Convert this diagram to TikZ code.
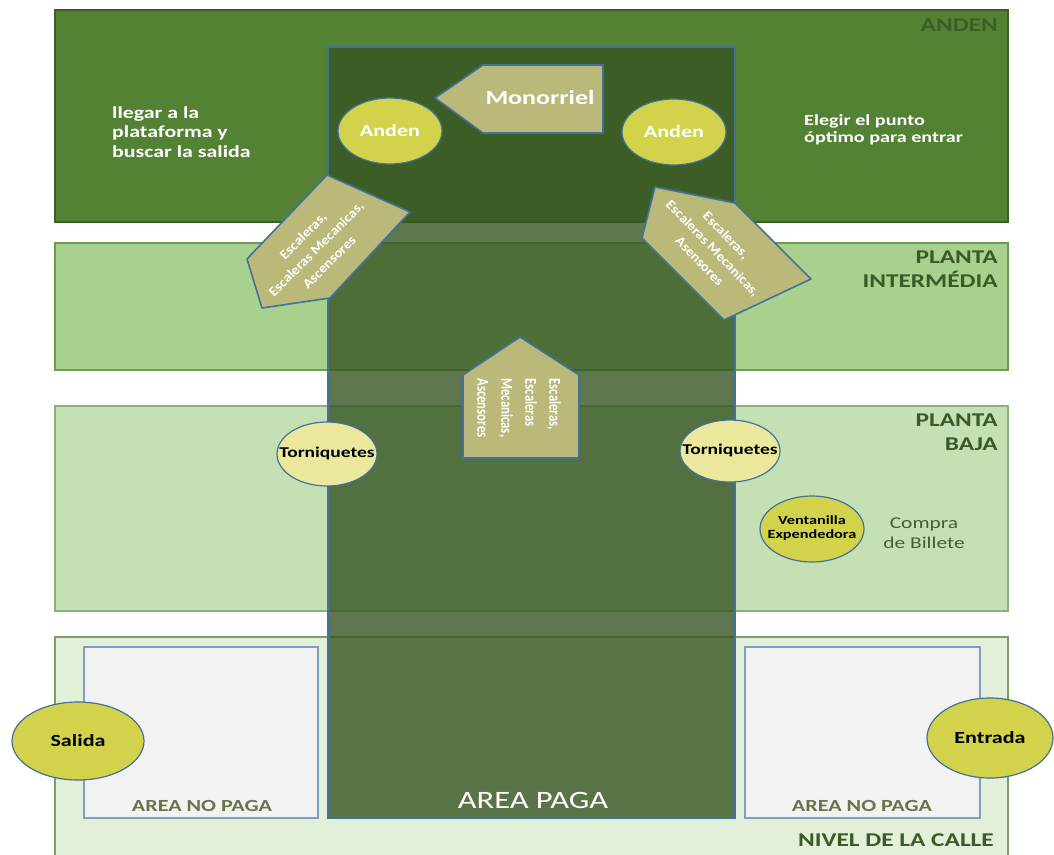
\documentclass[tikz,border=0pt]{standalone}
\usepackage{fontspec}
\setmainfont{Carlito}[FakeStretch=1.3]
\newfontfamily\vertfont{Carlito}[FakeStretch=0.77]
\newfontfamily\slantfont{Carlito}[FakeStretch=1.1]
\usetikzlibrary{shapes.geometric}

\definecolor{andenfill}{HTML}{548235}
\definecolor{andenedge}{HTML}{3B5E27}
\definecolor{interfill}{HTML}{A9D18E}
\definecolor{interedge}{HTML}{6F9A52}
\definecolor{bajafill}{HTML}{C5E0B4}
\definecolor{bajaedge}{HTML}{8CB07A}
\definecolor{callefill}{HTML}{E2EFD9}
\definecolor{calleedge}{HTML}{7E9C6C}
\definecolor{pagafill}{HTML}{375623}
\definecolor{blueedge}{HTML}{41719C}
\definecolor{khaki}{HTML}{BAB97A}
\definecolor{yellowfill}{HTML}{D3D24B}
\definecolor{paleyellow}{HTML}{EBE89E}
\definecolor{nopagafill}{HTML}{F2F2F2}
\definecolor{nopagaedge}{HTML}{7F9DC4}
\definecolor{levellabel}{HTML}{3C5A28}
\definecolor{nopagatext}{HTML}{66764A}
\definecolor{compratext}{HTML}{435F35}

\newcommand\fs[2]{\fontsize{#1}{#2}\selectfont}
% text that may spill past its ellipse without widening it
\newcommand\snug[1]{\makebox[0pt][c]{\begin{tabular}{@{}c@{}}#1\end{tabular}}}

\begin{document}
\begin{tikzpicture}[x=1pt,y=-1pt,
  band/.style={line width=1.5pt},
  stairs/.style={fill=khaki, draw=blueedge, line width=1.6pt, line join=round},
  yellowell/.style={ellipse, draw=blueedge, line width=1.2pt, fill=yellowfill, inner sep=0pt},
  paleell/.style={ellipse, draw=blueedge, line width=1.2pt, fill=paleyellow, inner sep=0pt},
  nopaga/.style={fill=nopagafill, draw=nopagaedge, line width=1.2pt},
  levelname/.style={anchor=east, align=right, inner sep=0pt, text=levellabel, font=\bfseries\fs{19.5}{24}},
  nopagalabel/.style={inner sep=0pt, text=nopagatext, font=\bfseries\fs{17}{20}},
  whitetext/.style={text=white, inner sep=0pt}
]
\useasboundingbox (0,0) rectangle (1054,854);
\fill[white] (0,0) rectangle (1054,854);

% station levels
\draw[band, fill=andenfill, draw=andenedge] (55,10) rectangle (1008,222);
\draw[band, fill=interfill, draw=interedge] (55,243) rectangle (1008,370);
\draw[band, fill=bajafill, draw=bajaedge] (55,406) rectangle (1008,611);
\draw[band, fill=callefill, draw=calleedge] (55,637) rectangle (1008,858);

% unpaid areas at street level
\draw[nopaga] (84,647) rectangle (318,818);
\draw[nopaga] (745,647) rectangle (980,818);
\node[nopagalabel] (nopagaL) at (202,806) {AREA NO PAGA};
\node[nopagalabel] (nopagaR) at (862,806) {AREA NO PAGA};

% paid area column crossing every level
\draw[fill=pagafill, fill opacity=0.8, draw=blueedge, line width=1.3pt] (328,47) rectangle (735,818);
\node[whitetext, font=\fs{25}{28}] (paga) at (533,800) {AREA PAGA};

% level names
\node[levelname, text=andenedge] (lvlanden) at (998,25) {ANDEN};
\node[levelname] (lvlinter) at (998,269) {PLANTA\\INTERMÉDIA};
\node[levelname] (lvlbaja) at (998,432) {PLANTA\\BAJA};
\node[levelname] (lvlcalle) at (994,840) {NIVEL DE LA CALLE};

% notes on the platform
\node[whitetext, anchor=west, align=left, font=\bfseries\fs{16.8}{19.5}] (nota1) at (112,132) {llegar a la\\plataforma y\\buscar la salida};
\node[whitetext, anchor=west, align=left, font=\bfseries\fs{15.5}{16.5}] (nota2) at (804,130) {Elegir el punto\\óptimo para entrar};

% monorail arrow
\draw[stairs] (435,98) -- (483,65) -- (603,65) -- (603,133) -- (483,133) -- cycle;
\node[whitetext, font=\bfseries\fs{20}{24}] (mono) at (540,98) {Monorriel};

% platforms
\node[yellowell, minimum width=104pt, minimum height=66pt, text=white, font=\bfseries\fs{17}{19}] (andenL) at (390,131) {Anden};
\node[yellowell, minimum width=104pt, minimum height=66pt, text=white, font=\bfseries\fs{17}{19}] (andenR) at (674,132) {Anden};

% stairs between levels
\draw[stairs] (327,175) -- (410,212) -- (330,298) -- (262,308) -- (247,259) -- cycle;
\node[whitetext, rotate=45, align=center, font=\slantfont\bfseries\fs{13.5}{18.5}] (escL) at (316,249) {Escaleras,\\Escaleras Mecanicas,\\Ascensores};

\draw[stairs] (655,187) -- (735,203) -- (811,279) -- (724,320) -- (642,238) -- cycle;
\node[whitetext, rotate=-46, align=center, font=\slantfont\bfseries\fs{13.5}{18.5}] (escR) at (713,248) {Escaleras,\\Escaleras Mecanicas,\\Asensores};

\draw[stairs] (520,337) -- (579,375) -- (579,458) -- (463,458) -- (463,375) -- cycle;
\node[whitetext, rotate=-90, align=left, font=\vertfont\bfseries\fs{16.5}{24}] (escM) at (519,408) {Escaleras,\\Escaleras\\Mecanicas,\\Ascensores};

% turnstiles and ticket office
\node[paleell, minimum width=100pt, minimum height=64pt, font=\bfseries\fs{15}{16}] (tornL) at (327,454) {\snug{Torniquetes}};
\node[paleell, minimum width=100pt, minimum height=62pt, font=\bfseries\fs{15}{16}] (tornR) at (730,451) {\snug{Torniquetes}};
\node[yellowell, minimum width=104pt, minimum height=66pt, font=\bfseries\fs{12.5}{14}] (ventanilla) at (812,529) {\snug{Ventanilla\\Expendedora}};
\node[inner sep=0pt, align=center, text=compratext, font=\fs{16.5}{20}] (compra) at (924,533) {Compra\\de Billete};

% street accesses
\node[yellowell, minimum width=132pt, minimum height=78pt, font=\bfseries\fs{17}{20}] (salida) at (78,741) {Salida};
\node[yellowell, minimum width=126pt, minimum height=80pt, font=\bfseries\fs{17}{20}] (entrada) at (990,738) {Entrada};
\end{tikzpicture}
\end{document}
